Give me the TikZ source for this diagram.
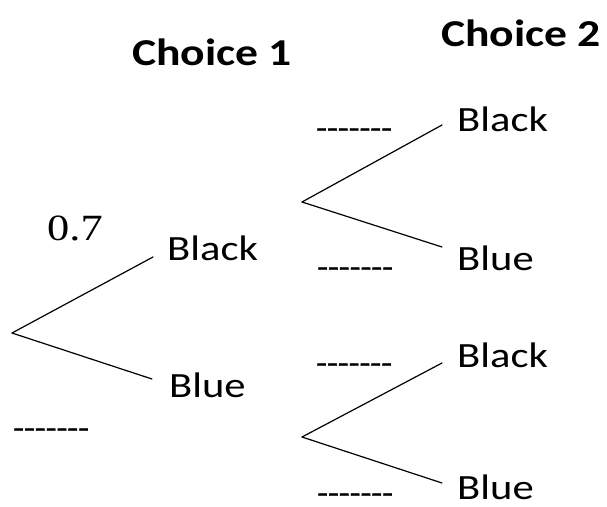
\documentclass[tikz,border=0pt]{standalone}
\usepackage{fontspec}
\newfontfamily\labfont[FakeStretch=1.2]{Carlito}
\newfontfamily\dashfont[FakeStretch=1.2,FakeBold=1.5]{Carlito}
\newfontfamily\numfont[FakeStretch=1.2]{Liberation Serif}
\begin{document}
\begin{tikzpicture}[x=1pt,y=-1pt,
  branch/.style={line width=1.2pt, line cap=round},
  outcome/.style={anchor=base west, inner sep=0pt, font=\labfont\fontsize{35.5}{40}\selectfont},
  heading/.style={anchor=base west, inner sep=0pt, font=\labfont\bfseries\fontsize{38}{44}\selectfont},
  prob/.style={anchor=base west, inner sep=0pt, font=\numfont\fontsize{37}{42}\selectfont},
  blank/.style={anchor=base west, inner sep=0pt, font=\dashfont\fontsize{29.5}{32}\selectfont}]
  \useasboundingbox (0,0) rectangle (607,506);

  % column headings
  \node[heading] (h1) at (132,65) {Choice 1};
  \node[heading] (h2) at (441,46) {Choice 2};

  % first choice
  \coordinate (r) at (12,333);
  \coordinate (e1) at (153,257);
  \coordinate (e2) at (152,379);
  \draw[branch] (r) -- (e1);
  \draw[branch] (r) -- (e2);
  \node[outcome] (b1) at (167,260) {Black};
  \node[outcome] (u1) at (169,397) {Blue};
  \node[prob] (p1) at (47,240) {0.7};
  \node[blank] (q1) at (13,438) {-------};

  % second choice after black
  \coordinate (ra) at (302,202);
  \coordinate (ea1) at (442,125);
  \coordinate (ea2) at (442,247);
  \draw[branch] (ra) -- (ea1);
  \draw[branch] (ra) -- (ea2);
  \node[outcome] (ba) at (457,131) {Black};
  \node[outcome] (ua) at (457,270) {Blue};
  \node[blank] (qa1) at (316,138) {-------};
  \node[blank] (qa2) at (317,277) {-------};

  % second choice after blue
  \coordinate (rb) at (302,437);
  \coordinate (eb1) at (442,363);
  \coordinate (eb2) at (442,483);
  \draw[branch] (rb) -- (eb1);
  \draw[branch] (rb) -- (eb2);
  \node[outcome] (bb) at (457,367) {Black};
  \node[outcome] (ub) at (457,499) {Blue};
  \node[blank] (qb1) at (316,373) {-------};
  \node[blank] (qb2) at (317,503) {-------};
\end{tikzpicture}
\end{document}
